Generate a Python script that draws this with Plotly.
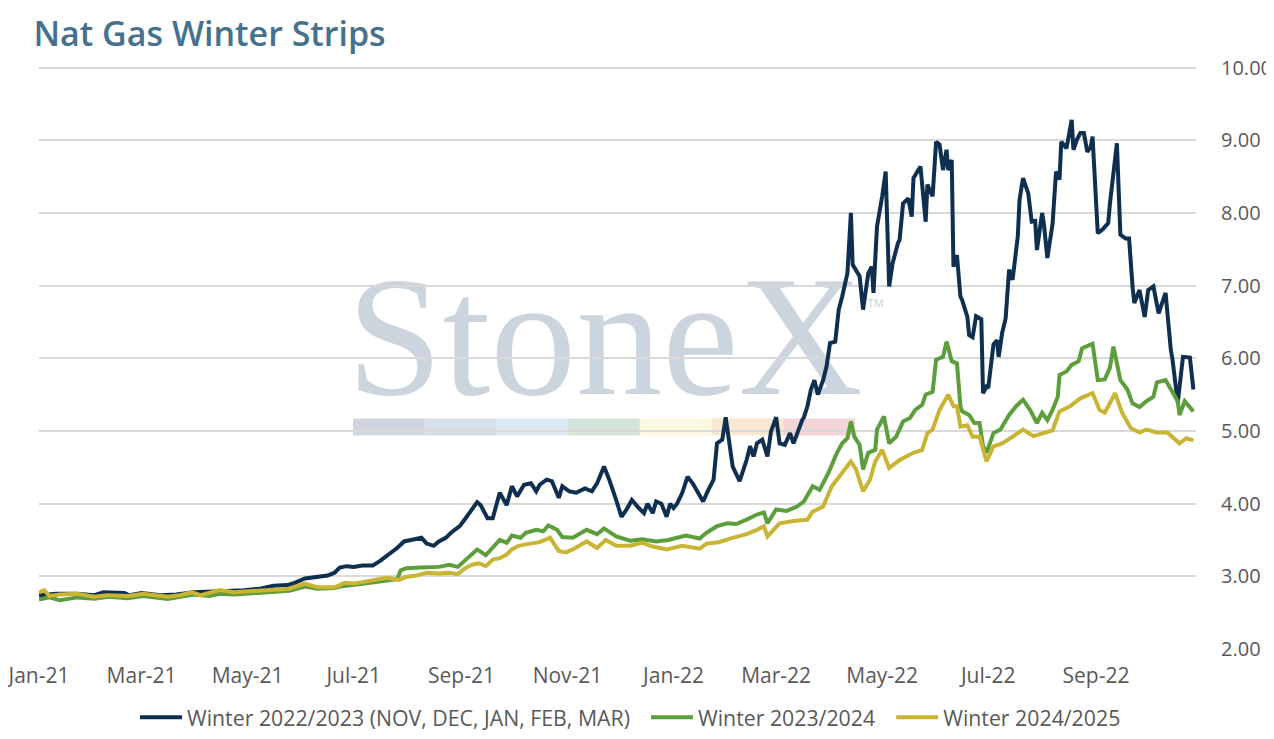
import pandas as pd
import plotly.graph_objects as go

# x values: days since 2021-01-01
start = pd.Timestamp("2021-01-01")

w2223_day = [0, 10, 22, 32, 37, 49, 52, 59, 70, 79, 89, 101, 108, 118, 127, 135, 143, 147, 153, 158,
             166, 170, 173, 177, 181, 186, 192, 196, 201, 206, 210, 215, 220, 223, 227, 230, 234, 237, 242, 246,
             249, 252, 254, 258, 261, 265, 269, 272, 275, 279, 283, 286, 288, 292, 295, 299, 301, 305, 309, 314,
             318, 321, 325, 328, 332, 335, 338, 341, 345, 348, 350, 353, 355, 358, 361, 363, 365, 367, 370, 373,
             376, 378, 382, 385, 388, 390, 393, 395, 397, 399, 403, 407, 409, 411, 413, 416, 419, 421, 424, 426,
             429, 432, 434, 436, 439, 440, 442, 444, 446, 448, 451, 453, 455, 458, 460, 462, 465, 467, 468, 472,
             474, 477, 479, 480, 482, 485, 487, 489, 491, 494, 495, 497, 500, 502, 503, 507, 510, 511, 514, 516,
             518, 520, 522, 523, 525, 526, 528, 530, 531, 534, 535, 537, 539, 542, 543, 545, 546, 549, 551, 552,
             554, 556, 557, 558, 560, 563, 564, 566, 569, 571, 573, 574, 577, 578, 580, 582, 583, 585, 587, 588,
             591, 594, 595, 597, 599, 601, 603, 605, 606, 609, 612, 615, 616, 620, 622, 625, 627, 629, 630, 633,
             636, 638, 641, 644, 648, 651, 652, 655, 658, 662, 664]
w2223_val = [2.74, 2.76, 2.76, 2.74, 2.78, 2.77, 2.74, 2.77, 2.74, 2.75, 2.78, 2.79, 2.79, 2.81, 2.83, 2.87, 2.88, 2.91, 2.97, 2.99,
             3.01, 3.05, 3.12, 3.14, 3.13, 3.15, 3.15, 3.21, 3.30, 3.39, 3.48, 3.50, 3.53, 3.45, 3.42, 3.48, 3.53, 3.60, 3.69, 3.82,
             3.92, 4.02, 3.98, 3.80, 3.80, 4.15, 3.98, 4.24, 4.10, 4.26, 4.28, 4.17, 4.26, 4.33, 4.31, 4.08, 4.24, 4.17, 4.15, 4.21,
             4.17, 4.28, 4.51, 4.33, 4.05, 3.82, 3.92, 4.05, 3.94, 3.87, 4.00, 3.87, 4.03, 4.00, 3.82, 4.00, 3.94, 4.00, 4.15, 4.37,
             4.28, 4.19, 4.03, 4.19, 4.33, 4.83, 4.88, 5.19, 4.83, 4.51, 4.31, 4.60, 4.79, 4.65, 4.83, 4.88, 4.65, 4.99, 5.19, 4.83,
             4.81, 4.97, 4.83, 4.97, 5.15, 5.19, 5.34, 5.57, 5.70, 5.50, 5.70, 5.89, 6.21, 6.23, 6.67, 6.85, 7.17, 8.00, 7.29, 7.13,
             6.67, 7.17, 7.26, 6.90, 7.81, 8.23, 8.57, 6.99, 7.31, 7.58, 7.63, 8.13, 8.20, 7.95, 8.48, 8.64, 7.88, 8.39, 8.23, 8.98,
             8.94, 8.59, 8.87, 8.59, 8.73, 7.26, 7.42, 6.85, 6.80, 6.57, 6.32, 6.29, 6.58, 6.54, 5.52, 5.61, 5.59, 6.19, 6.25, 6.02,
             6.35, 6.55, 6.85, 7.22, 7.08, 7.68, 8.18, 8.48, 8.27, 7.88, 7.89, 7.49, 8.00, 7.85, 7.38, 7.70, 7.85, 8.57, 8.46, 8.98,
             8.89, 9.28, 8.87, 9.01, 9.10, 9.10, 8.84, 8.91, 9.05, 7.72, 7.78, 7.86, 8.13, 8.96, 7.70, 7.65, 7.65, 6.99, 6.76, 6.94,
             6.57, 6.94, 6.99, 6.62, 6.90, 6.12, 5.98, 5.39, 6.02, 6.01, 5.57]

w2324_day = [0, 6, 12, 22, 32, 40, 51, 60, 74, 81, 89, 98, 104, 112, 124, 135, 144, 153, 160, 170,
             173, 184, 196, 206, 208, 211, 220, 230, 236, 241, 246, 252, 257, 265, 269, 272, 277, 280, 286, 290,
             293, 298, 301, 307, 315, 321, 325, 332, 340, 347, 355, 362, 372, 380, 384, 390, 396, 401, 407, 413,
             417, 419, 424, 430, 436, 440, 445, 449, 454, 459, 462, 465, 467, 469, 472, 474, 477, 481, 482, 486,
             489, 493, 497, 501, 504, 508, 510, 514, 516, 520, 522, 525, 528, 530, 531, 535, 538, 541, 543, 545,
             549, 553, 558, 562, 566, 570, 574, 577, 580, 583, 586, 587, 591, 594, 598, 600, 606, 609, 613, 616,
             618, 622, 626, 629, 633, 637, 641, 643, 648, 652, 655, 656, 659, 664]
w2324_val = [2.68, 2.71, 2.67, 2.71, 2.69, 2.72, 2.70, 2.73, 2.69, 2.72, 2.75, 2.73, 2.76, 2.75, 2.77, 2.79, 2.80, 2.86, 2.83, 2.84,
             2.86, 2.89, 2.93, 2.96, 3.08, 3.11, 3.12, 3.13, 3.16, 3.13, 3.24, 3.37, 3.29, 3.50, 3.46, 3.56, 3.53, 3.60, 3.64, 3.62,
             3.70, 3.64, 3.54, 3.53, 3.64, 3.58, 3.66, 3.55, 3.49, 3.51, 3.48, 3.50, 3.56, 3.52, 3.60, 3.69, 3.73, 3.72, 3.78, 3.85,
             3.88, 3.73, 3.92, 3.90, 3.96, 4.03, 4.24, 4.19, 4.42, 4.70, 4.83, 4.90, 5.13, 4.92, 4.81, 4.47, 4.70, 4.74, 5.02, 5.20,
             4.83, 4.92, 5.13, 5.18, 5.29, 5.36, 5.50, 5.54, 5.98, 6.02, 6.23, 5.96, 5.93, 5.34, 5.27, 5.22, 5.11, 5.11, 4.79, 4.70,
             4.97, 5.02, 5.22, 5.34, 5.43, 5.29, 5.11, 5.25, 5.15, 5.29, 5.47, 5.77, 5.82, 5.91, 5.96, 6.14, 6.20, 5.70, 5.71, 5.87,
             6.16, 5.70, 5.57, 5.38, 5.33, 5.41, 5.47, 5.67, 5.70, 5.52, 5.41, 5.22, 5.41, 5.27]

w2425_day = [0, 3, 6, 12, 22, 32, 39, 51, 60, 66, 74, 81, 88, 93, 101, 104, 112, 124, 135, 144,
             153, 160, 170, 176, 181, 192, 200, 207, 211, 217, 223, 230, 236, 241, 245, 249, 253, 257, 261, 265,
             269, 272, 276, 280, 288, 294, 299, 303, 307, 315, 321, 326, 332, 340, 347, 353, 361, 370, 380, 384,
             391, 399, 407, 413, 417, 419, 426, 434, 442, 445, 451, 456, 461, 465, 467, 470, 474, 478, 481, 485,
             489, 495, 499, 503, 508, 511, 514, 518, 523, 526, 528, 530, 534, 537, 541, 545, 549, 554, 560, 566,
             572, 577, 583, 587, 593, 599, 606, 610, 613, 619, 623, 628, 633, 637, 643, 649, 653, 656, 660, 664]
w2425_val = [2.78, 2.81, 2.73, 2.75, 2.76, 2.72, 2.74, 2.73, 2.76, 2.74, 2.72, 2.74, 2.78, 2.74, 2.80, 2.81, 2.78, 2.80, 2.81, 2.83,
             2.90, 2.85, 2.85, 2.91, 2.90, 2.95, 2.98, 2.95, 2.99, 3.01, 3.05, 3.04, 3.05, 3.03, 3.11, 3.16, 3.18, 3.14, 3.23, 3.25,
             3.30, 3.37, 3.42, 3.44, 3.47, 3.53, 3.35, 3.33, 3.37, 3.48, 3.39, 3.50, 3.42, 3.42, 3.46, 3.41, 3.37, 3.42, 3.38, 3.45,
             3.47, 3.53, 3.58, 3.64, 3.69, 3.55, 3.73, 3.76, 3.78, 3.89, 3.96, 4.24, 4.40, 4.51, 4.58, 4.47, 4.17, 4.33, 4.58, 4.74,
             4.49, 4.60, 4.65, 4.70, 4.74, 4.97, 5.02, 5.29, 5.50, 5.34, 5.34, 5.06, 5.08, 4.92, 4.92, 4.58, 4.79, 4.83, 4.92, 5.02,
             4.93, 4.97, 5.01, 5.27, 5.34, 5.45, 5.52, 5.29, 5.25, 5.52, 5.25, 5.04, 4.98, 5.02, 4.98, 4.98, 4.89, 4.83, 4.90, 4.87]

series = [
    ("Winter 2022/2023 (NOV, DEC, JAN, FEB, MAR)", w2223_day, w2223_val, "#0E2F50"),
    ("Winter 2023/2024", w2324_day, w2324_val, "#5C9E3C"),
    ("Winter 2024/2025", w2425_day, w2425_val, "#C9B433"),
]

fig = go.Figure()
for name, days, vals, color in series:
    dates = start + pd.to_timedelta(days, unit="D")
    # trailing spaces widen the gap between legend entries
    fig.add_trace(go.Scatter(x=dates, y=vals, name=name + "\u00a0\u00a0", mode="lines",
                             line=dict(color=color, width=4)))

# StoneX watermark (behind the lines)
fig.add_shape(type="rect", xref="paper", yref="paper", x0=0.265, x1=0.713, y0=0.467, y1=0.667,
              line=dict(width=0), fillcolor="rgba(0,0,0,0)", layer="below",
              label=dict(text="StoneX", font=dict(family="Liberation Serif", size=172, color="#CCD5DE")))
fig.add_shape(type="rect", xref="paper", yref="paper", x0=0.713, x1=0.733, y0=0.58, y1=0.605,
              line=dict(width=0), fillcolor="rgba(0,0,0,0)", layer="below",
              label=dict(text="TM", font=dict(family="Liberation Sans", size=11, color="#CCD5DE")))
bar_colors = ["#CFD6DF", "#D5DEE9", "#DEE8F2", "#D6E3D9", "#FBF8E1", "#F9E8D1", "#F3D4D7"]
bx0, bx1 = 0.2714, 0.7053
seg = (bx1 - bx0) / len(bar_colors)
for i, c in enumerate(bar_colors):
    fig.add_shape(type="rect", xref="paper", yref="paper", x0=bx0 + i * seg, x1=bx0 + (i + 1) * seg,
                  y0=0.365, y1=0.394, line=dict(width=0), fillcolor=c, layer="below")

fig.update_layout(
    width=1274, height=739,
    margin=dict(l=31, r=86, t=56, b=98, autoexpand=False),
    paper_bgcolor="white", plot_bgcolor="white",
    font=dict(family="Open Sans", color="#595959", size=20),
    title=dict(text="Nat Gas Winter Strips", x=0.02, xref="container", xanchor="left",
               y=0.965, yanchor="middle", font=dict(size=34, color="#45718E", family="Open Sans", weight=600)),
    legend=dict(orientation="h", x=0.516, xanchor="center", y=-0.117, yanchor="middle",
                font=dict(size=21.3, color="#595959"), itemwidth=42),
    showlegend=True,
)
fig.update_xaxes(type="date", range=["2021-01-01", "2022-10-28 12:00"], tick0="2021-01-01", dtick="M2",
                 tickformat="%b-%y", showgrid=False, zeroline=False, showline=False, automargin=False,
                 ticklabeloverflow="allow", ticklabelstandoff=12, tickfont=dict(size=21, color="#595959"))
fig.update_yaxes(side="right", range=[2, 10.05], dtick=1, tickformat=".2f", showgrid=True,
                 gridcolor="#D9D9D9", gridwidth=1.5, zeroline=False, showline=False, automargin=False,
                 ticklabeloverflow="allow", ticklabelstandoff=24, tickfont=dict(size=20, color="#595959"))

fig.write_html("out.html")
